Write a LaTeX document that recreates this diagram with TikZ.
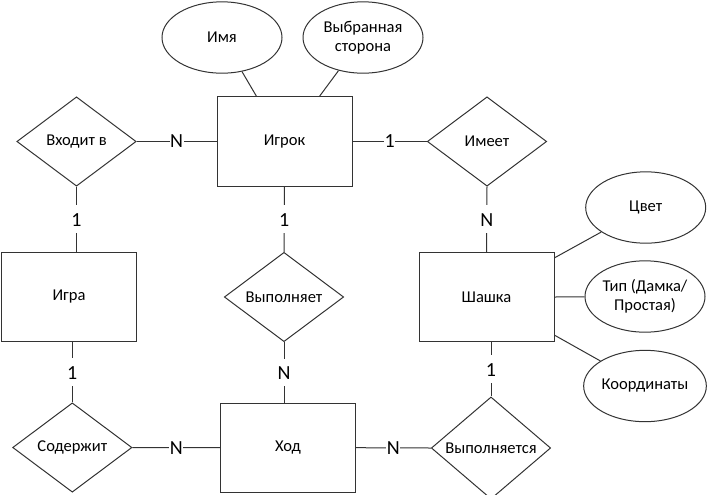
\documentclass[tikz,border=0pt]{standalone}
\usepackage{fontspec}
\setmainfont{Carlito}
\usetikzlibrary{shapes.geometric}
\begin{document}
\begin{tikzpicture}[x=0.75pt,y=-0.75pt,
  every node/.style={font=\fontsize{12.4}{14.5}\selectfont, text=black},
  ent/.style={draw=black!80, line width=0.75pt, rectangle, inner sep=0pt, minimum width=101.25pt, minimum height=67pt},
  rel/.style={draw=black!80, line width=0.75pt, diamond, inner sep=0pt, minimum width=89.5pt, minimum height=67pt},
  attr/.style={draw=black!80, line width=0.75pt, ellipse, inner sep=0pt, minimum width=90pt, minimum height=53.5pt, align=center},
  conn/.style={draw=black!80, line width=0.75pt},
  card/.style={fill=white, font=\fontsize{15}{18}\selectfont, inner xsep=0.4pt, inner ysep=0pt, text height=15.5pt, text depth=5.25pt},
  cardh/.style={fill=white, font=\fontsize{15}{18}\selectfont, inner xsep=0.4pt, inner ysep=0pt}
]
\useasboundingbox (0,0) rectangle (707,494);
% entities
\node[ent] (igrok) at (284.5,141.5) {Игрок};
\node[ent] (igra) at (69,297) {Игра};
\node[ent] (shashka) at (486.5,297) {Шашка};
\node[ent] (hod) at (288,447.7) {Ход};
% relationships
\node[rel] (vhod) at (76.5,141.5) {Входит в};
\node[rel] (imeet) at (487,141.5) {Имеет};
\node[rel] (vyp) at (284,297) {Выполняет};
\node[rel] (sod) at (72.3,447.5) {Содержит};
\node[rel] (vypsya) at (491,448) {Выполняется};
% attributes
\node[attr] (imya) at (222,37.5) {Имя};
\node[attr] (storona) at (363,37.5) {Выбранная\\сторона};
\node[attr] (cvet) at (645.7,207.5) {Цвет};
\node[attr] (tip) at (645,296.5) {Тип (Дамка/\\Простая)};
\node[attr] (koord) at (645,386) {Координаты};
% attribute links
\draw[conn] ([xshift=30pt]igrok.north west) -- (imya);
\draw[conn] ([xshift=-24.75pt]igrok.north east) -- (storona);
\draw[conn] ([yshift=-4.5pt]shashka.north east) -- (cvet);
\draw[conn] (shashka.east) -- (tip);
\draw[conn] ([yshift=5.25pt]shashka.south east) -- (koord);
% relationship links
\draw[conn] (vhod.east) -- node[cardh]{N} (igrok.west);
\draw[conn] (igrok.east) -- node[cardh]{1} (imeet.west);
\draw[conn] (sod.east) -- node[cardh]{N} (hod.west);
\draw[conn] (hod.east) -- node[cardh]{N} (vypsya.west);
\draw[conn] (vhod.south) -- node[card]{1} (vhod.south |- igra.north);
\draw[conn] (igrok.south) -- node[card]{1} (vyp.north);
\draw[conn] (imeet.south) -- node[card]{N} (shashka.north);
\draw[conn] (sod.north |- igra.south) -- node[card]{1} (sod.north);
\draw[conn] (vyp.south) -- node[card]{N} (vyp.south |- hod.north);
\draw[conn] (vypsya.north |- shashka.south) -- node[card]{1} (vypsya.north);
\end{tikzpicture}
\end{document}
